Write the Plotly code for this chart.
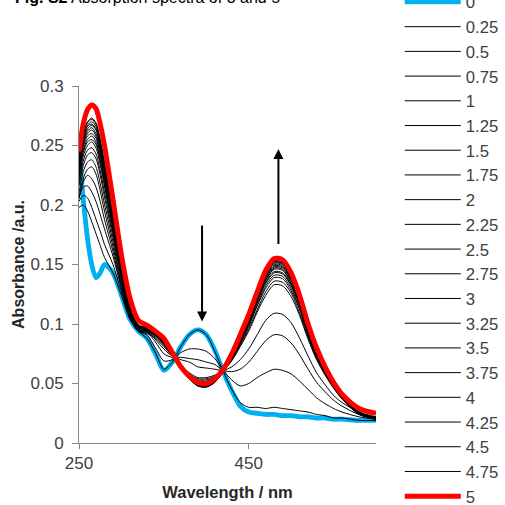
import plotly.graph_objects as go

# Wavelength grid (nm)
wavelength = [250, 255, 260, 265, 270, 275, 280, 290, 300, 310, 320, 330, 340, 350, 360, 370,
              380, 390, 400, 410, 420, 430, 440, 450, 460, 470, 480, 490, 500, 510, 520, 530,
              540, 550, 560, 580, 600]

series_labels = ["0", "0.25", "0.5", "0.75", "1", "1.25", "1.5", "1.75", "2", "2.25", "2.5",
                 "2.75", "3", "3.25", "3.5", "3.75", "4", "4.25", "4.5", "4.75", "5"]

abs_0 = [.245, .205, .172, .150, .139, .143, .150, .143, .124, .104, .094, .088, .075, .061, .068, .081,
         .091, .095, .091, .078, .060, .044, .031, .026, .025, .024, .024, .023, .023, .022, .022, .021,
         .021, .020, .020, .019, .019]
abs_0_25 = [.198, .200, .195, .186, .176, .166, .156, .143, .124, .104, .094, .088, .076, .062, .068, .081,
            .091, .095, .091, .077, .060, .045, .034, .030, .030, .029, .030, .029, .028, .027, .026, .024,
            .023, .021, .021, .019, .019]
abs_0_5 = [.203, .208, .206, .198, .188, .178, .167, .150, .127, .105, .094, .091, .080, .069, .070, .076,
           .079, .079, .077, .071, .061, .053, .048, .050, .055, .059, .062, .061, .058, .052, .045, .038,
           .033, .029, .026, .022, .020]
abs_0_75 = [.207, .215, .216, .211, .203, .192, .180, .157, .130, .106, .094, .093, .085, .075, .072, .072,
            .071, .070, .068, .066, .061, .060, .062, .068, .077, .086, .091, .090, .084, .074, .062, .051,
            .043, .036, .031, .024, .022]
abs_1 = [.206, .219, .225, .222, .215, .203, .188, .161, .131, .106, .094, .094, .087, .079, .073, .070,
         .068, .064, .063, .062, .061, .064, .070, .079, .091, .103, .109, .108, .101, .088, .073, .059,
         .049, .040, .034, .026, .022]
abs_1_25 = [.205, .222, .230, .232, .226, .212, .195, .165, .133, .106, .094, .092, .088, .081, .073, .065,
            .059, .055, .055, .057, .061, .069, .081, .094, .110, .124, .133, .132, .123, .107, .087, .070,
            .057, .046, .037, .024, .020]
abs_1_5 = [.210, .228, .236, .238, .232, .218, .201, .169, .135, .107, .095, .093, .089, .082, .073, .065,
           .058, .054, .054, .056, .061, .070, .082, .096, .112, .127, .136, .135, .126, .109, .089, .071,
           .058, .047, .037, .024, .020]
abs_1_75 = [.216, .233, .242, .244, .239, .225, .207, .173, .138, .108, .096, .094, .090, .083, .074, .064,
            .057, .053, .053, .055, .061, .070, .083, .098, .115, .130, .139, .138, .128, .112, .090, .072,
            .059, .047, .038, .025, .020]
abs_2 = [.219, .237, .246, .248, .243, .229, .211, .176, .139, .109, .096, .094, .090, .083, .074, .064,
         .057, .052, .052, .055, .061, .071, .084, .099, .116, .132, .141, .140, .130, .113, .091, .073,
         .059, .048, .038, .025, .020]
abs_2_25 = [.223, .241, .250, .253, .248, .234, .216, .179, .141, .110, .097, .095, .091, .084, .074, .064,
            .056, .051, .051, .054, .061, .071, .085, .100, .118, .134, .143, .142, .132, .115, .093, .074,
            .060, .048, .038, .025, .021]
abs_2_5 = [.225, .244, .253, .255, .251, .237, .218, .180, .142, .111, .097, .095, .091, .084, .074, .064,
           .056, .051, .050, .054, .060, .071, .086, .101, .119, .135, .144, .143, .133, .116, .093, .075,
           .060, .048, .039, .025, .021]
abs_2_75 = [.227, .246, .255, .258, .253, .239, .221, .182, .142, .111, .097, .095, .091, .085, .074, .064,
            .056, .051, .050, .053, .060, .072, .086, .102, .119, .136, .146, .145, .134, .116, .094, .075,
            .060, .049, .039, .025, .021]
abs_3 = [.229, .248, .258, .260, .256, .242, .223, .184, .143, .112, .097, .095, .091, .085, .074, .064,
         .056, .050, .049, .053, .060, .072, .087, .102, .120, .137, .147, .146, .135, .117, .095, .076,
         .060, .049, .039, .025, .021]
abs_3_25 = [.231, .251, .260, .263, .258, .244, .226, .185, .144, .112, .098, .096, .092, .086, .075, .064,
            .055, .050, .049, .052, .060, .072, .087, .103, .121, .138, .148, .147, .137, .118, .095, .076,
            .061, .049, .039, .026, .021]
abs_3_5 = [.233, .252, .262, .265, .260, .246, .228, .187, .145, .112, .098, .096, .092, .086, .075, .063,
           .055, .049, .049, .052, .060, .072, .087, .104, .122, .139, .149, .148, .137, .119, .096, .076,
           .061, .049, .039, .026, .021]
abs_3_75 = [.235, .254, .264, .267, .263, .249, .230, .188, .146, .113, .098, .096, .092, .086, .075, .063,
            .055, .049, .048, .052, .060, .072, .088, .104, .123, .140, .150, .149, .138, .120, .096, .077,
            .061, .049, .040, .026, .021]
abs_4 = [.236, .256, .266, .268, .264, .250, .231, .189, .146, .113, .098, .096, .092, .086, .075, .063,
         .055, .049, .048, .052, .060, .073, .088, .105, .123, .141, .151, .150, .139, .120, .097, .077,
         .061, .050, .040, .026, .021]
abs_4_25 = [.238, .257, .267, .270, .266, .252, .233, .190, .147, .113, .099, .097, .093, .087, .075, .063,
            .054, .048, .048, .051, .060, .073, .088, .105, .124, .142, .152, .151, .140, .121, .097, .077,
            .062, .050, .040, .026, .021]
abs_4_5 = [.239, .259, .269, .272, .268, .254, .235, .191, .148, .114, .099, .097, .093, .087, .075, .063,
           .054, .048, .047, .051, .060, .073, .089, .106, .125, .142, .152, .151, .140, .122, .098, .078,
           .062, .050, .040, .026, .021]
abs_4_75 = [.240, .260, .270, .273, .269, .255, .236, .192, .148, .114, .099, .097, .093, .087, .075, .063,
            .054, .048, .047, .051, .060, .073, .089, .106, .125, .143, .153, .152, .141, .122, .098, .078,
            .062, .050, .040, .026, .021]
abs_5 = [.245, .268, .280, .284, .281, .268, .250, .205, .158, .122, .103, .099, .094, .088, .076, .064,
         .056, .051, .050, .054, .062, .075, .091, .108, .127, .145, .155, .154, .143, .124, .100, .080,
         .064, .051, .041, .029, .025]

all_series = [abs_0, abs_0_25, abs_0_5, abs_0_75, abs_1, abs_1_25, abs_1_5, abs_1_75, abs_2, abs_2_25,
              abs_2_5, abs_2_75, abs_3, abs_3_25, abs_3_5, abs_3_75, abs_4, abs_4_25, abs_4_5, abs_4_75,
              abs_5]

n = len(series_labels)

fig = go.Figure()
for i in range(n):
    lab, ys = series_labels[i], all_series[i]
    if i == 0:
        color, width = "#00B0F0", 4.8
    elif i == n - 1:
        color, width = "#FF0000", 5
    else:
        color, width = "#000000", 1.0
    fig.add_trace(go.Scatter(x=wavelength, y=ys, mode="lines", name=lab,
                             line=dict(color=color, width=width, shape="spline", smoothing=0.8)))

font_family = "Liberation Sans, Arial, sans-serif"
axis_col = "#868686"
text_col = "#404040"

fig.update_layout(
    width=505, height=505,
    margin=dict(l=79, r=129, t=86, b=62, autoexpand=False),
    plot_bgcolor="white", paper_bgcolor="white",
    font=dict(family=font_family, size=17, color=text_col),
    showlegend=True,
    legend=dict(x=1.08, xanchor="left", y=1.284, yanchor="top", font=dict(size=16.7, color=text_col),
                itemwidth=56, maxheight=1000, bgcolor="rgba(0,0,0,0)", tracegroupgap=0,
                traceorder="normal"),
    xaxis=dict(range=[250, 600], tickvals=[250, 450], ticks="outside", ticklen=5, tickcolor=axis_col,
               showline=True, linecolor=axis_col, linewidth=1, showgrid=False, zeroline=False,
               tickfont=dict(size=17, color=text_col),
               title=dict(text="<b>Wavelength / nm</b>", font=dict(size=16.5, color="#262626"), standoff=14)),
    yaxis=dict(range=[0, 0.3], dtick=0.05, ticks="outside", ticklen=6, tickcolor=axis_col,
               showline=True, linecolor=axis_col, linewidth=1, showgrid=False, zeroline=False,
               ticklabelstandoff=5,
               tickfont=dict(size=17, color=text_col),
               title=dict(text="<b>Absorbance /a.u.</b>", font=dict(size=16, color="#262626"), standoff=1)),
)

fig.add_annotation(x=395, y=0.102, ax=395, ay=0.184, xref="x", yref="y", axref="x", ayref="y",
                   text="", showarrow=True, arrowhead=2, arrowsize=1, arrowwidth=2, arrowcolor="#000000")
fig.add_annotation(x=485, y=0.247, ax=485, ay=0.166, xref="x", yref="y", axref="x", ayref="y",
                   text="", showarrow=True, arrowhead=2, arrowsize=1, arrowwidth=2, arrowcolor="#000000")
fig.add_annotation(x=-0.222, y=1.248, xref="paper", yref="paper", xanchor="left", yanchor="middle",
                   text="<b>Fig. S2</b> Absorption spectra of 3 and 5", showarrow=False,
                   font=dict(size=16, color="#000000"))

fig.write_html("out.html")
